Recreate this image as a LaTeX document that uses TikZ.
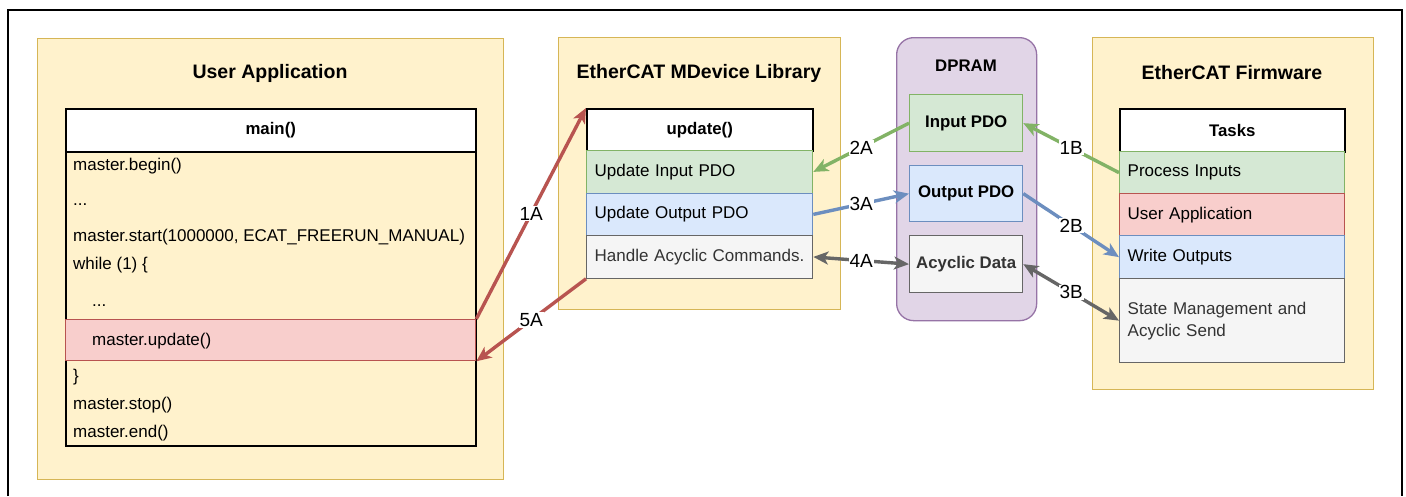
\documentclass[tikz,border=0pt]{standalone}
\usepackage{fontspec}
\setmainfont{Liberation Sans}
\usetikzlibrary{arrows.meta}
\definecolor{panelfill}{HTML}{FFF2CC}
\definecolor{paneldraw}{HTML}{D6B656}
\definecolor{dpfill}{HTML}{E1D5E7}
\definecolor{dpdraw}{HTML}{9673A6}
\definecolor{gfill}{HTML}{D5E8D4}
\definecolor{gdraw}{HTML}{82B366}
\definecolor{bfill}{HTML}{DAE8FC}
\definecolor{bdraw}{HTML}{6C8EBF}
\definecolor{rfill}{HTML}{F8CECC}
\definecolor{rdraw}{HTML}{B85450}
\definecolor{yfill}{HTML}{F5F5F5}
\definecolor{ydraw}{HTML}{666666}
\definecolor{ytext}{HTML}{333333}
\tikzset{
  bodyfont/.style={font=\fontsize{17}{22}\selectfont},
  titlefont/.style={font=\bfseries\fontsize{19.5}{23}\selectfont},
  hdrfont/.style={font=\bfseries\fontsize{16.8}{20}\selectfont},
  panel/.style={draw=paneldraw, fill=panelfill, line width=1.3pt, anchor=north west, inner sep=0pt},
  hdr/.style={draw=black, fill=white, line width=1.5pt, anchor=north west, inner sep=0pt, hdrfont},
  rowbox/.style={line width=1.3pt, anchor=north west, inner xsep=8pt, inner ysep=0pt, align=left, bodyfont},
  greenrow/.style={rowbox, draw=gdraw, fill=gfill},
  bluerow/.style={rowbox, draw=bdraw, fill=bfill},
  redrow/.style={rowbox, draw=rdraw, fill=rfill},
  grayrow/.style={rowbox, draw=ydraw, fill=yfill, text=ytext},
  pdobox/.style={line width=1.3pt, anchor=north west, inner sep=0pt, hdrfont, minimum width=113pt},
  codeline/.style={anchor=base west, inner sep=0pt, bodyfont},
  conn/.style={line width=3.4pt, -{Stealth[length=15pt,width=13pt,inset=4pt]}},
  bconn/.style={line width=3.4pt, {Stealth[length=15pt,width=13pt,inset=4pt]}-{Stealth[length=15pt,width=13pt,inset=4pt]}},
  lbl/.style={fill=white, inner sep=1pt, font=\fontsize{19}{21}\selectfont, text=black},
}
\begin{document}
\begin{tikzpicture}[x=1pt,y=-1pt]
\useasboundingbox (0,0) rectangle (1406,496);
\fill[white] (0,0) rectangle (1406,496);
\draw[line width=1.3pt] (8,496) -- (8,10) -- (1402,10) -- (1402,496);

% ---------- User Application ----------
\node[panel, minimum width=466pt, minimum height=441pt] (ua) at (37,38) {};
\node[titlefont] (uatitle) at (270,73) {User Application};
\node[hdr, minimum width=410pt, minimum height=43pt] (mainhdr) at (65,108) {main()};
\node[draw=black, line width=1.5pt, anchor=north west, inner sep=0pt, minimum width=410pt, minimum height=294pt] (mainbody) at (65,151) {};
\node[redrow, minimum width=410pt, minimum height=41pt, text width=394pt] (pink) at (65,319) {};
\node[codeline] (l1) at (73,170) {master.begin()};
\node[codeline] (l2) at (73,205) {...};
\node[codeline] (l3) at (73,241) {master.start(1000000, ECAT\_FREERUN\_MANUAL)};
\node[codeline] (l4) at (73,269) {while (1) \{};
\node[codeline] (l5) at (92,306) {...};
\node[codeline] (l6) at (92,345) {master.update()};
\node[codeline] (l7) at (73,381) {\}};
\node[codeline] (l8) at (73,409) {master.stop()};
\node[codeline] (l9) at (73,437) {master.end()};

% ---------- EtherCAT MDevice Library ----------
\node[panel, minimum width=282pt, minimum height=272pt] (lib) at (558,37) {};
\node[titlefont] (libtitle) at (699,73) {EtherCAT MDevice Library};
\node[hdr, minimum width=226pt, minimum height=42pt] (uhdr) at (586,108) {update()};
\node[greenrow, minimum width=226pt, minimum height=42.5pt, text width=210pt] (ugreen) at (586,150) {Update Input PDO};
\node[bluerow, minimum width=226pt, minimum height=42.5pt, text width=210pt] (ublue) at (586,192.5) {Update Output PDO};
\node[grayrow, minimum width=226pt, minimum height=42.5pt, text width=210pt] (ugray) at (586,235) {Handle Acyclic Commands.};

% ---------- DPRAM ----------
\node[draw=dpdraw, fill=dpfill, line width=1.3pt, rounded corners=17pt, anchor=north west, inner sep=0pt, minimum width=140pt, minimum height=283pt] (dpram) at (896,37) {};
\node[hdrfont] (dptitle) at (966,66) {DPRAM};
\node[pdobox, draw=gdraw, fill=gfill, minimum height=57pt] (inpdo) at (909,94) {Input PDO};
\node[pdobox, draw=bdraw, fill=bfill, minimum height=56pt] (outpdo) at (909,165) {Output PDO};
\node[pdobox, draw=ydraw, fill=yfill, minimum height=57pt, text=ytext] (acyc) at (909,235) {Acyclic Data};

% ---------- EtherCAT Firmware ----------
\node[panel, minimum width=281pt, minimum height=352pt] (fw) at (1092,37) {};
\node[titlefont] (fwtitle) at (1232,73) {EtherCAT Firmware};
\node[hdr, minimum width=225pt, minimum height=43pt] (thdr) at (1119,108) {Tasks};
\node[greenrow, minimum width=225pt, minimum height=42pt, text width=209pt] (tgreen) at (1119,151) {Process Inputs};
\node[redrow, minimum width=225pt, minimum height=42pt, text width=209pt] (tred) at (1119,193) {User Application};
\node[bluerow, minimum width=225pt, minimum height=43pt, text width=209pt] (tblue) at (1119,235) {Write Outputs};
\node[grayrow, minimum width=225pt, minimum height=84pt, text width=209pt] (tgray) at (1119,278) {State Management and\\Acyclic Send};

% ---------- Connectors ----------
\draw[conn, draw=rdraw, fill=rdraw] (pink.north east) -- node[lbl] {1A} (uhdr.north west);
\draw[conn, draw=rdraw, fill=rdraw] (ugray.south west) -- node[lbl] {5A} (pink.south east);
\draw[conn, draw=gdraw, fill=gdraw] (inpdo.west) -- node[lbl] {2A} (ugreen.east);
\draw[conn, draw=bdraw, fill=bdraw] (ublue.east) -- node[lbl] {3A} (outpdo.west);
\draw[bconn, draw=ydraw, fill=ydraw] (ugray.east) -- node[lbl] {4A} (acyc.west);
\draw[conn, draw=gdraw, fill=gdraw] (tgreen.west) -- node[lbl] {1B} (inpdo.east);
\draw[conn, draw=bdraw, fill=bdraw] (outpdo.east) -- node[lbl] {2B} (tblue.west);
\draw[bconn, draw=ydraw, fill=ydraw] (acyc.east) -- node[lbl] {3B} (tgray.west);
\end{tikzpicture}
\end{document}
